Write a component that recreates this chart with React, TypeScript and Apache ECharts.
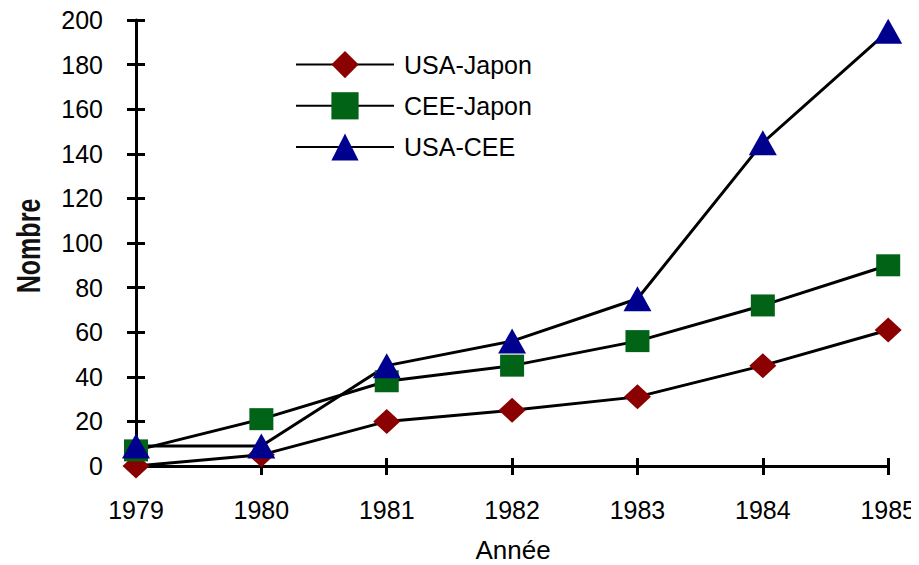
import React, { useEffect, useRef } from "react";
import * as echarts from "echarts";

const years = ["1979", "1980", "1981", "1982", "1983", "1984", "1985"];
const usaJapon = [0, 5, 20, 25, 31, 45, 61];
const ceeJapon = [7, 21, 38, 45, 56, 72, 90];
const usaCee = [9, 9, 45, 56, 75, 145, 195];
const seriesNames = ["USA-Japon", "CEE-Japon", "USA-CEE"];
const xTitle = "Année";
const yTitle = "Nombre";

const FONT = "'Liberation Sans', Arial, Helvetica, sans-serif";

export default function App() {
  const ref = useRef<HTMLDivElement>(null);
  useEffect(() => {
    if (!ref.current) return;
    const chart = echarts.init(ref.current, undefined, { renderer: "svg" });
    const lineStyle = { color: "#000", width: 3 };
    const axisLineStyle = { color: "#000", width: 3 };
    const tickStyle = { color: "#000", width: 3 };
    const xCommon = {
      type: "category" as const,
      data: years,
      boundaryGap: false,
      position: "bottom" as const,
    };
    const yCommon = {
      type: "value" as const,
      min: 0,
      max: 200,
      interval: 20,
      position: "left" as const,
    };
    chart.setOption({
      animation: false,
      backgroundColor: "#fff",
      textStyle: { fontFamily: FONT },
      grid: { left: 136, right: 26, top: 20, bottom: 99, containLabel: false },
      legend: {
        orient: "vertical",
        left: 290,
        top: 46,
        itemWidth: 98,
        itemHeight: 34,
        itemGap: 14,
        data: seriesNames,
        textStyle: { fontSize: 25, color: "#000", fontFamily: FONT, padding: [0, 0, 0, 5] },
      },
      xAxis: [
        {
          ...xCommon,
          axisLine: { show: true, lineStyle: axisLineStyle },
          axisTick: { show: true, inside: false, length: 9, lineStyle: tickStyle, alignWithLabel: true },
          axisLabel: { fontSize: 25, color: "#000", margin: 31, fontFamily: FONT },
          splitLine: { show: false },
        },
        {
          ...xCommon,
          axisLine: { show: false },
          axisTick: { show: true, inside: true, length: 8, lineStyle: tickStyle },
          axisLabel: { show: false },
          splitLine: { show: false },
        },
      ],
      yAxis: [
        {
          ...yCommon,
          axisLine: { show: true, lineStyle: axisLineStyle },
          axisTick: { show: true, inside: false, length: 9, lineStyle: tickStyle },
          axisLabel: { fontSize: 25, color: "#000", margin: 33, fontFamily: FONT },
          splitLine: { show: false },
        },
        {
          ...yCommon,
          axisLine: { show: false },
          axisTick: { show: true, inside: true, length: 9, lineStyle: tickStyle },
          axisLabel: { show: false },
          splitLine: { show: false },
        },
      ],
      graphic: [
        {
          type: "text",
          x: 513,
          y: 550,
          style: {
            text: xTitle,
            fontSize: 26,
            fontFamily: FONT,
            fill: "#000",
            textAlign: "center",
            textVerticalAlign: "middle",
          },
        },
        {
          type: "text",
          x: 28,
          y: 246,
          rotation: Math.PI / 2,
          scaleX: 0.76,
          style: {
            text: yTitle,
            fontSize: 33,
            fontWeight: "bold",
            fontFamily: FONT,
            fill: "#111",
            textAlign: "center",
            textVerticalAlign: "middle",
          },
        },
      ],
      series: [
        {
          name: seriesNames[0],
          type: "line",
          data: usaJapon,
          symbol: "diamond",
          symbolSize: [27, 25],
          lineStyle,
          itemStyle: { color: "#8B0000", borderWidth: 0 },
        },
        {
          name: seriesNames[1],
          type: "line",
          data: ceeJapon,
          symbol: "rect",
          symbolSize: [24, 22],
          lineStyle,
          itemStyle: { color: "#006315", borderWidth: 0 },
        },
        {
          name: seriesNames[2],
          type: "line",
          data: usaCee,
          symbol: "triangle",
          symbolSize: [28, 25],
          lineStyle,
          itemStyle: { color: "#00008F", borderWidth: 0 },
        },
      ],
    });
    return () => chart.dispose();
  }, []);
  return <div ref={ref} style={{ width: 919, height: 565, marginLeft: -8, marginTop: -8 }} />;
}
